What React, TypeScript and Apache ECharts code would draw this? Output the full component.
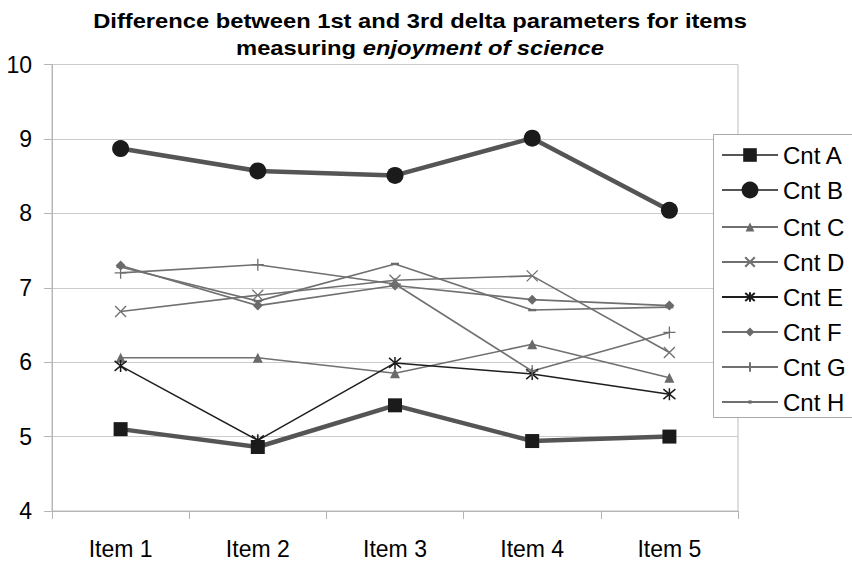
import { useEffect, useRef } from 'react';
import * as echarts from 'echarts';

const FONT = "'Liberation Sans', Arial, sans-serif";

const titleLines = [
  'Difference between 1st and 3rd delta parameters for items',
  'measuring {i|enjoyment of science}',
];

const categories = ['Item 1', 'Item 2', 'Item 3', 'Item 4', 'Item 5'];
const yTicks = { min: 4, max: 10, step: 1 };

const cntA = [5.1, 4.86, 5.42, 4.94, 5.0];
const cntB = [8.87, 8.57, 8.51, 9.01, 8.04];
const cntC = [6.06, 6.06, 5.85, 6.24, 5.79];
const cntD = [6.68, 6.9, 7.1, 7.16, 6.13];
const cntE = [5.95, 4.95, 5.99, 5.84, 5.57];
const cntF = [7.3, 6.76, 7.03, 6.84, 6.76];
const cntG = [7.2, 7.31, 7.05, 5.88, 6.4];
const cntH = [7.28, 6.82, 7.32, 6.7, 6.74];

const CROSS = 'path://M0,0L10,10M10,0L0,10';
const STAR = 'path://M0,0L10,10M10,0L0,10M5,-1L5,11';
const PLUS = 'path://M5,0L5,10M0,5L10,5';
const DASH = 'path://M0,0H10V3H0Z';

type Spec = {
  name: string;
  data: number[];
  symbol: string;
  size: number;
  fill: string;
  stroke?: string;
  strokeWidth?: number;
  lineColor: string;
  lineWidth: number;
  legendH: number;
  keep?: boolean;
};

const specs: Spec[] = [
  { name: 'Cnt A', data: cntA, symbol: 'rect', size: 14, fill: '#1b1b1b', lineColor: '#555', lineWidth: 4.5, legendH: 17 },
  { name: 'Cnt B', data: cntB, symbol: 'circle', size: 17, fill: '#1b1b1b', lineColor: '#555', lineWidth: 4.5, legendH: 21 },
  { name: 'Cnt C', data: cntC, symbol: 'triangle', size: 10, fill: '#6a6a6a', lineColor: '#707070', lineWidth: 1.6, legendH: 11 },
  { name: 'Cnt D', data: cntD, symbol: CROSS, size: 11, fill: 'none', stroke: '#707070', strokeWidth: 1.3, lineColor: '#707070', lineWidth: 1.6, legendH: 12 },
  { name: 'Cnt E', data: cntE, symbol: STAR, size: 12, fill: 'none', stroke: '#1b1b1b', strokeWidth: 1.5, lineColor: '#1e1e1e', lineWidth: 1.5, legendH: 12 },
  { name: 'Cnt F', data: cntF, symbol: 'diamond', size: 10, fill: '#6a6a6a', lineColor: '#707070', lineWidth: 1.6, legendH: 11 },
  { name: 'Cnt G', data: cntG, symbol: PLUS, size: 12, fill: 'none', stroke: '#707070', strokeWidth: 1.3, lineColor: '#707070', lineWidth: 1.6, legendH: 12 },
  { name: 'Cnt H', data: cntH, symbol: DASH, size: 8, fill: '#6a6a6a', lineColor: '#707070', lineWidth: 1.6, legendH: 4, keep: true },
];

// vertical centres of the legend rows
const legendRows = [155, 190, 227, 262, 297, 332, 367, 402];

export default function App() {
  const ref = useRef<HTMLDivElement>(null);

  useEffect(() => {
    const chart = echarts.init(ref.current!, null, { renderer: 'svg' });

    const series = specs.map((s) => ({
      name: s.name,
      type: 'line',
      data: s.data,
      symbol: s.symbol,
      symbolSize: s.size,
      symbolKeepAspect: !!s.keep,
      showAllSymbol: true,
      z: 2,
      lineStyle: { color: s.lineColor, width: s.lineWidth },
      itemStyle: {
        color: s.fill === 'none' ? s.stroke : s.fill,
        borderColor: s.stroke ?? s.fill,
        borderWidth: s.stroke ? s.strokeWidth : 0,
        opacity: 1,
      },
      emphasis: { disabled: true },
    }));

    const legends = specs.map((s, i) => ({
      data: [s.name],
      orient: 'vertical',
      left: 721,
      top: legendRows[i] - 12,
      padding: 0,
      itemWidth: 56,
      itemHeight: s.legendH,
      selectedMode: false,
      z: 5,
      textStyle: { fontFamily: FONT, fontSize: 24, lineHeight: 24, color: '#000' },
    }));

    const titleStyle = {
      fontFamily: FONT,
      fontSize: 21,
      fontWeight: 'bold',
      fill: '#000',
      textAlign: 'center',
      textVerticalAlign: 'middle',
    };

    chart.setOption({
      animation: false,
      backgroundColor: '#fff',
      grid: {
        left: 52,
        right: 114,
        top: 64.5,
        bottom: 53,
        show: true,
        borderColor: '#bdbdbd',
        borderWidth: 1,
        containLabel: false,
      },
      xAxis: {
        type: 'category',
        data: categories,
        boundaryGap: true,
        axisLine: { lineStyle: { color: '#b5b5b5', width: 1 } },
        axisTick: { show: true, length: 8, lineStyle: { color: '#b5b5b5' } },
        axisLabel: { fontFamily: FONT, fontSize: 23, color: '#000', margin: 26 },
        splitLine: { show: false },
      },
      yAxis: {
        type: 'value',
        min: yTicks.min,
        max: yTicks.max,
        interval: yTicks.step,
        axisLine: { show: true, lineStyle: { color: '#b5b5b5', width: 1 } },
        axisTick: { show: true, length: 8, lineStyle: { color: '#b5b5b5' } },
        axisLabel: { fontFamily: FONT, fontSize: 23, color: '#000', margin: 20 },
        splitLine: { show: true, lineStyle: { color: '#cbcbcb', width: 1 } },
      },
      legend: legends,
      graphic: [
        {
          type: 'text',
          x: 420,
          y: 21,
          scaleX: 1.13,
          z: 5,
          style: { ...titleStyle, text: titleLines[0] },
        },
        {
          type: 'text',
          x: 420,
          y: 48,
          scaleX: 1.13,
          z: 5,
          style: {
            ...titleStyle,
            text: titleLines[1],
            rich: {
              i: { fontFamily: FONT, fontSize: 21, fontWeight: 'bold', fontStyle: 'italic', fill: '#000' },
            },
          },
        },
        {
          type: 'rect',
          z: 3,
          shape: { x: 713.5, y: 134.5, width: 160, height: 283 },
          style: { fill: '#fff', stroke: '#ababab', lineWidth: 1 },
        },
      ],
      series,
    });

    return () => chart.dispose();
  }, []);

  return <div ref={ref} style={{ position: 'absolute', left: 0, top: 0, width: 852, height: 564 }} />;
}
